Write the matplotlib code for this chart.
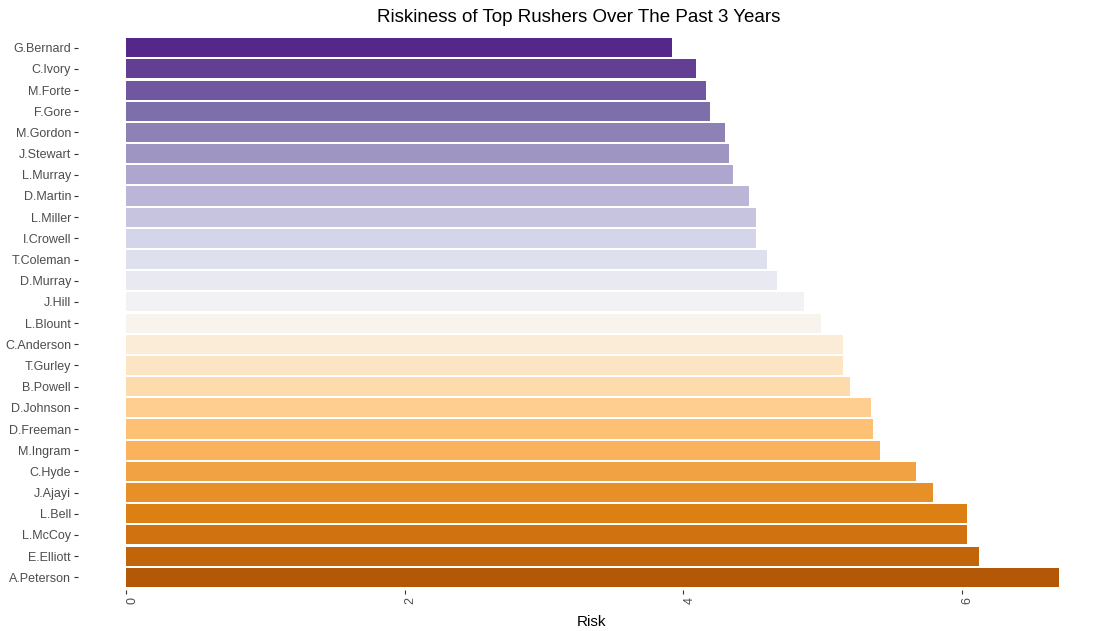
import matplotlib
matplotlib.use("Agg")
import matplotlib.pyplot as plt
from matplotlib.colors import LinearSegmentedColormap
import numpy as np

plt.rcParams['font.family'] = ['Liberation Sans', 'DejaVu Sans']

# top to bottom, as in the picture
players = ["G.Bernard", "C.Ivory", "M.Forte", "F.Gore", "M.Gordon", "J.Stewart",
           "L.Murray", "D.Martin", "L.Miller", "I.Crowell", "T.Coleman", "D.Murray",
           "J.Hill", "L.Blount", "C.Anderson", "T.Gurley", "B.Powell", "D.Johnson",
           "D.Freeman", "M.Ingram", "C.Hyde", "J.Ajayi", "L.Bell", "L.McCoy",
           "E.Elliott", "A.Peterson"]
risk = [3.92, 4.09, 4.16, 4.19, 4.30, 4.33, 4.36, 4.47, 4.52, 4.52, 4.60, 4.67,
        4.87, 4.99, 5.15, 5.15, 5.20, 5.35, 5.36, 5.41, 5.67, 5.79, 6.04, 6.04,
        6.12, 6.70]

# PuOr (9 classes), orange end first
puor9 = ["#b35806", "#e08214", "#fdb863", "#fee0b6", "#f7f7f7",
         "#d8daeb", "#b2abd2", "#8073ac", "#542788"]
cmap = LinearSegmentedColormap.from_list("puor", puor9)

n = len(players)
ypos = np.arange(n)[::-1]          # first player at the top
kolors = [cmap(1 - i / (n - 1)) for i in range(n)]

W, H = 1114, 631
fig = plt.figure(figsize=(W / 100, H / 100), dpi=100)
# panel like ggplot: 5% expansion left of zero, 0.6 on the discrete axis
ax = fig.add_axes([78 / W, 1 - 590 / H, (1106 - 78) / W, (590 - 35) / H])

ax.barh(ypos, risk, height=0.9, color=kolors)
ax.set_xlim(-0.345, 7.035)
ax.set_ylim(-0.6, n - 0.4)

ax.set_yticks(ypos)
ax.set_yticklabels(players)
ax.set_xticks([0, 2, 4, 6])
ax.set_xticklabels(["0", "2", "4", "6"], rotation=90, ha='left')
ax.tick_params(axis='both', colors='#333333', labelcolor='#4d4d4d', labelsize=9,
               length=3, width=0.8)
ax.tick_params(axis='x', pad=2)
ax.tick_params(axis='y', pad=2)

for s in ax.spines.values():
    s.set_visible(False)

ax.set_xlabel("Risk", fontsize=11, color='black', labelpad=8)
fig.text(579 / W, 1 - 18 / H, "Riskiness of Top Rushers Over The Past 3 Years",
         fontsize=13.5, ha='center', va='center')

fig.savefig("out.png", dpi=100)
